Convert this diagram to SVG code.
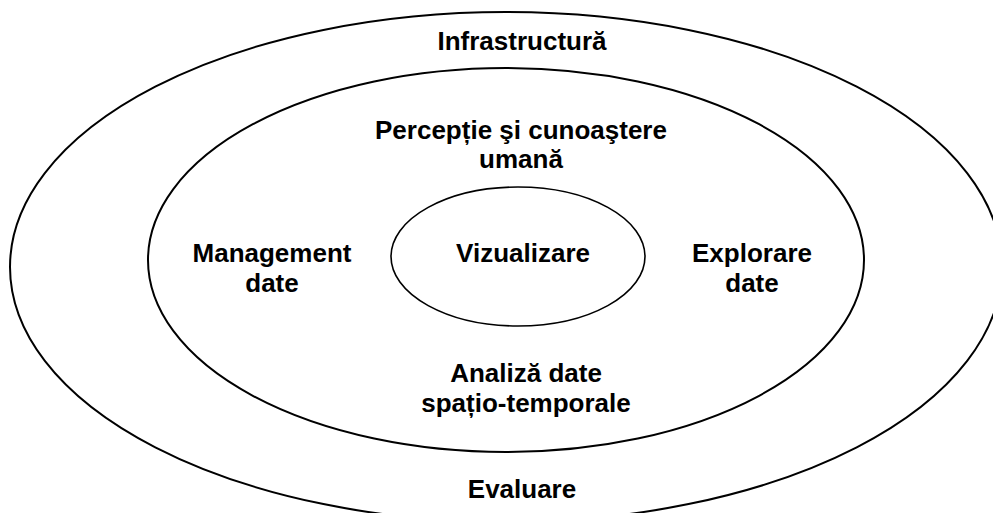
<svg xmlns="http://www.w3.org/2000/svg" width="993" height="513" viewBox="0 0 993 513">
<style>
.ring{fill:none;stroke:#000;stroke-width:2}
.lbl{font-family:"Liberation Sans",Arial,sans-serif;font-weight:bold;font-size:26px;fill:#000;text-anchor:middle}
</style>
<rect width="993" height="513" fill="#fff"/>
<g id="infrastructura">
<ellipse class="ring" cx="506" cy="267" rx="496" ry="255"/>
<text class="lbl" x="522" y="50">Infrastructură</text>
<text class="lbl" x="522" y="498">Evaluare</text>
</g>
<g id="middle">
<ellipse class="ring" cx="506" cy="260" rx="358" ry="192"/>
<text class="lbl" x="521" y="139">Percepție şi cunoaştere</text>
<text class="lbl" x="521" y="168">umană</text>
<text class="lbl" x="272" y="262">Management</text>
<text class="lbl" x="272" y="292">date</text>
<text class="lbl" x="752" y="262">Explorare</text>
<text class="lbl" x="752" y="292">date</text>
<text class="lbl" x="526" y="382">Analiză date</text>
<text class="lbl" x="526" y="412">spațio-temporale</text>
</g>
<g id="vizualizare">
<ellipse class="ring" cx="518" cy="256.5" rx="127" ry="69.5" style="stroke-width:1.6"/>
<text class="lbl" x="523" y="262">Vizualizare</text>
</g>
<g id="connectors"/>
</svg>
